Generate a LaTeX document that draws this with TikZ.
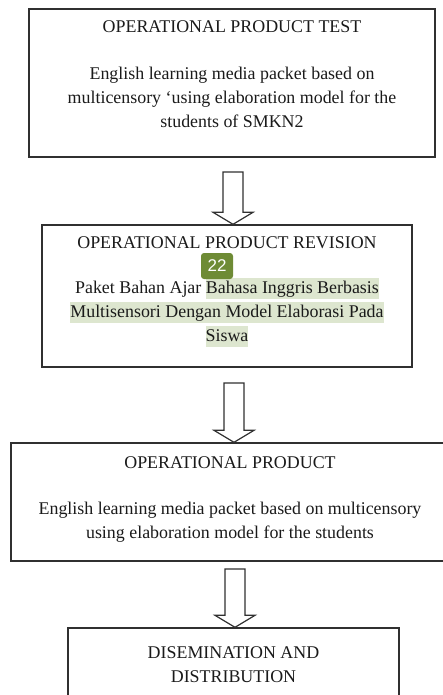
\documentclass[tikz,border=0pt]{standalone}
\usepackage{fontspec}
\setmainfont{Liberation Serif}
\newfontfamily\badgefont{Liberation Sans}
\usetikzlibrary{positioning,calc}

\definecolor{hlgreen}{HTML}{DDE6CF}
\definecolor{badgegreen}{HTML}{6E8B35}
\definecolor{linegray}{HTML}{303030}
\definecolor{textgray}{HTML}{1A1A1A}

% highlighted words
\newcommand{\hl}[1]{{\setlength{\fboxsep}{0pt}\colorbox{hlgreen}{\rule[-6pt]{0pt}{21pt}#1}}}

% hollow arrow from a start point down to the top of the next box
\newcommand{\hollowarrow}[2]{%
  \draw[blockarrow] ($(#1)+(-10,0)$) -- ($(#1 |- #2.north)+(-10,-12)$) -- ++(-10,0)
    -- (#1 |- #2.north) -- ++(20,-12) -- ++(-10,0) -- ($(#1)+(10,0)$) -- cycle;}

\tikzset{
  stagebox/.style={draw=linegray, line width=1.4pt, rectangle, inner sep=0pt},
  stagetext/.style={font=\fontsize{17.9}{24}\selectfont, align=center, inner sep=0pt, text=textgray},
  blockarrow/.style={draw=linegray, line width=1.2pt, fill=white, line join=miter},
  badge/.style={fill=badgegreen, rounded corners=3pt, text=white, inner sep=0pt,
    minimum width=32pt, minimum height=26pt, font=\badgefont\fontsize{17}{17}\selectfont}
}

\begin{document}
\begin{tikzpicture}[x=1pt,y=-1pt]

    \useasboundingbox (0,0) rectangle (443,695);

    % Draw the operational product test
    \node[stagebox, minimum width=406pt, minimum height=148pt] (test) at (232,83) {};
    \node[stagetext, below=12pt of test.north] (testtitle) {OPERATIONAL PRODUCT TEST};
    \node[stagetext, below=34pt of testtitle] (testbody) {English learning media packet based on\\multicensory `using elaboration model for the\\students of SMKN2};

    % Draw the revision
    \node[stagebox, minimum width=370pt, minimum height=142pt] (revision) at (227,296) {};
    \node[stagetext, below=12pt of revision.north] (revtitle) {OPERATIONAL PRODUCT REVISION};
    \node[stagetext, below=29pt of revtitle] (revbody) {Paket Bahan Ajar \hl{Bahasa Inggris Berbasis}\\\hl{Multisensori Dengan Model Elaborasi Pada}\\\hl{Siswa}};
    \node[badge] (mark) at (217,266) {22};

    % Draw the operational product
    \node[stagebox, minimum width=438pt, minimum height=118pt] (product) at (230,502) {};
    \node[stagetext, below=14pt of product.north] (prodtitle) {OPERATIONAL PRODUCT};
    \node[stagetext, below=33pt of prodtitle] (prodbody) {English learning media packet based on multicensory\\using elaboration model for the students};

    % Draw the dissemination
    \node[stagebox, minimum width=331pt, minimum height=100pt] (dissem) at (233.5,678) {};
    \node[stagetext, below=19pt of dissem.north] (distitle) {DISEMINATION AND\\DISTRIBUTION};

    % Draw the arrows between the boxes
    \coordinate (arrowa) at (233,172);
    \coordinate (arrowb) at (234,383);
    \coordinate (arrowc) at (235,569);
    \hollowarrow{arrowa}{revision}
    \hollowarrow{arrowb}{product}
    \hollowarrow{arrowc}{dissem}

\end{tikzpicture}
\end{document}
